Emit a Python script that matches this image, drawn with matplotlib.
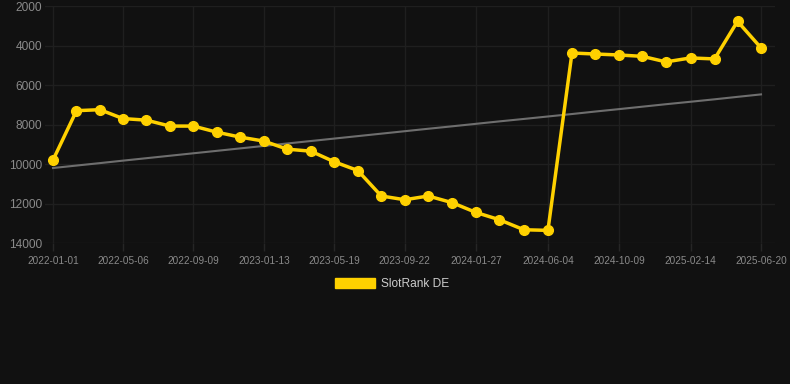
import numpy as np
import matplotlib.pyplot as plt
import matplotlib.dates as mdates
from matplotlib.patches import Patch

# sample dates (every ~6 weeks), labelled ones are every third
dates = ['2022-01-01', '2022-02-12', '2022-03-26', '2022-05-06', '2022-06-17',
         '2022-07-29', '2022-09-09', '2022-10-21', '2022-12-02', '2023-01-13',
         '2023-02-24', '2023-04-07', '2023-05-19', '2023-06-30', '2023-08-11',
         '2023-09-22', '2023-11-03', '2023-12-16', '2024-01-27', '2024-03-09',
         '2024-04-22', '2024-06-04', '2024-07-17', '2024-08-27', '2024-10-09',
         '2024-11-20', '2025-01-01', '2025-02-14', '2025-03-29', '2025-05-09',
         '2025-06-20']
rank = [9800, 7300, 7250, 7700, 7780, 8080, 8080, 8390, 8640, 8840,
        9250, 9350, 9890, 10330, 11620, 11810, 11620, 11960, 12450, 12820,
        13330, 13360, 4380, 4430, 4480, 4550, 4830, 4630, 4680, 2775,
        4120]
tick_labels = dates[::3]
yticks = [2000, 4000, 6000, 8000, 10000, 12000, 14000]

bg = '#111111'
grid = '#1f1f1f'
gold = '#FFD100'

x = mdates.datestr2num(dates)
y = np.array(rank)

fig = plt.figure(figsize=(7.9, 3.84), dpi=100, facecolor=bg)
W, H = 790, 384
# plot area: data from x=53..761 px, y=6..243 px
ax = fig.add_axes([45 / W, 1 - 243 / H, (775 - 45) / W, (243 - 6) / H], facecolor=bg)
px = (x[-1] - x[0]) / (761 - 53)
ax.set_xlim(x[0] - 8 * px, x[-1] + 14 * px)
ax.set_ylim(14000, 2000)

# trend line
k, b = np.polyfit(np.arange(len(y)), y, 1)
ax.plot(x, k * np.arange(len(y)) + b, color='#6e6e6e', lw=1.5, zorder=2)

ax.plot(x, y, color=gold, lw=2.5, marker='o', ms=7, zorder=3, clip_on=False)

ax.set_xticks(mdates.datestr2num(tick_labels))
ax.set_xticklabels(tick_labels)
ax.set_yticks(yticks)
ax.set_yticklabels([str(v) for v in yticks])
ax.tick_params(axis='x', colors='#262626', labelcolor='#8a8a8a', labelsize=7.2,
               length=6, width=1, pad=3)
ax.tick_params(axis='y', length=0, labelcolor='#8a8a8a', labelsize=8.6, pad=2)
for lab in ax.get_xticklabels() + ax.get_yticklabels():
    lab.set_fontfamily(['Liberation Sans', 'DejaVu Sans'])
ax.grid(True, color=grid, lw=1)
ax.set_axisbelow(True)
for s in ax.spines.values():
    s.set_visible(False)

leg = fig.legend(handles=[Patch(facecolor=gold, edgecolor=gold)], labels=['SlotRank DE'],
                 loc='center', bbox_to_anchor=(392 / W, 1 - 284 / H), frameon=False,
                 handlelength=3.4, handleheight=1.0, handletextpad=0.5,
                 prop={'family': ['Liberation Sans', 'DejaVu Sans'], 'size': 8.6})
for t in leg.get_texts():
    t.set_color('#cccccc')

fig.savefig('out.png', dpi=100, facecolor=bg)
